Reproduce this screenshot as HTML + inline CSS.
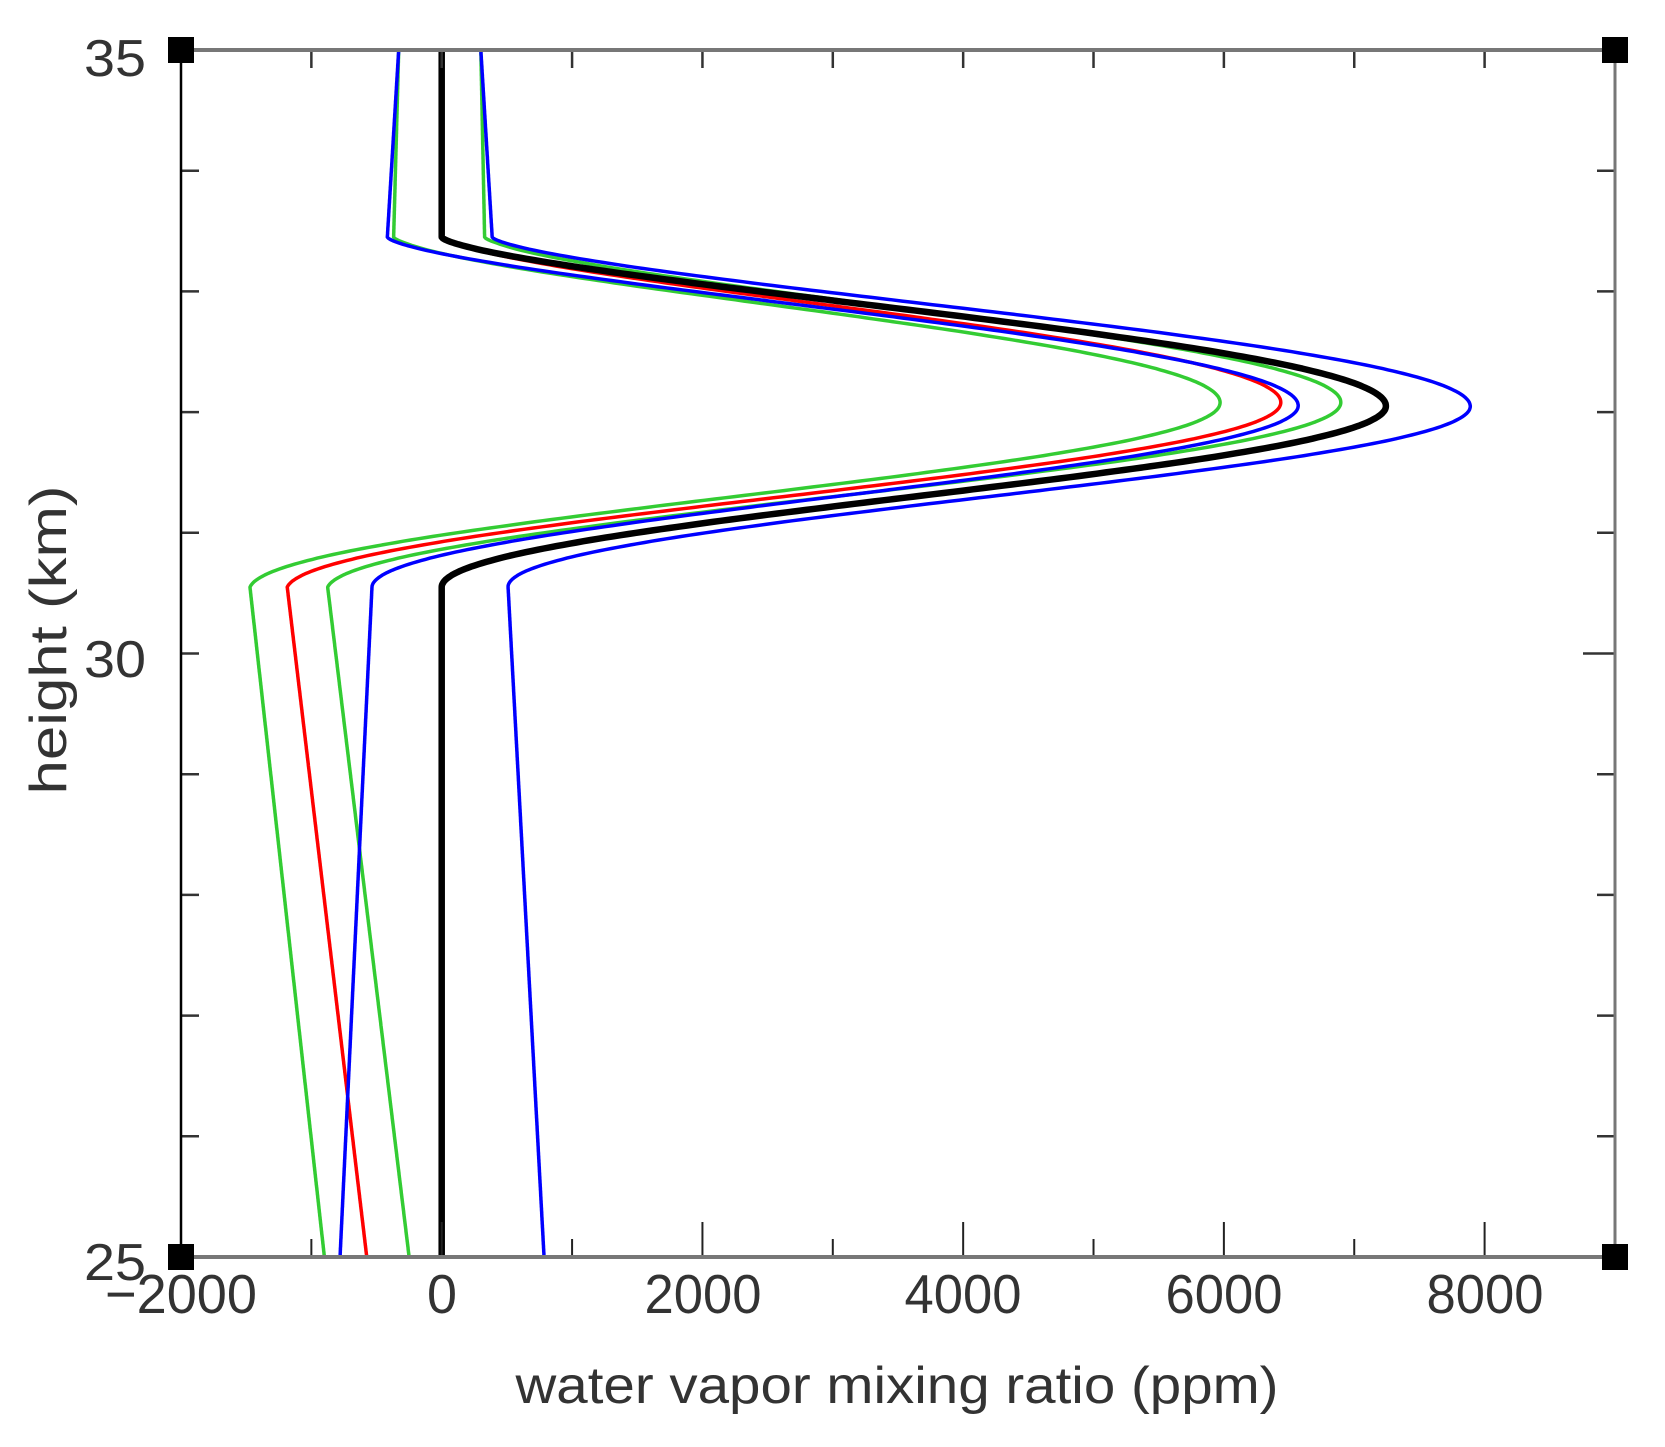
<!DOCTYPE html>
<html><head><meta charset="utf-8"><style>
html,body{margin:0;padding:0;background:#fff;}
svg{display:block;}
text{font-family:"Liberation Sans",sans-serif;fill:#333;}
</style></head><body>
<svg id="s" width="1665" height="1447" viewBox="0 0 1665 1447" xmlns="http://www.w3.org/2000/svg">
<rect width="1665" height="1447" fill="#fff"/>
<g id="curves" fill="none" stroke-linejoin="round"></g>
<g id="axes"></g>
<text x="115" y="76" font-size="52" text-anchor="middle" textLength="62" lengthAdjust="spacingAndGlyphs">35</text>
<text x="115" y="677" font-size="52" text-anchor="middle" textLength="62" lengthAdjust="spacingAndGlyphs">30</text>
<text x="115" y="1280" font-size="52" text-anchor="middle" textLength="62" lengthAdjust="spacingAndGlyphs">25</text>
<text x="181" y="1313" font-size="55" text-anchor="middle" textLength="152" lengthAdjust="spacingAndGlyphs">−2000</text>
<text x="442" y="1313" font-size="55" text-anchor="middle" textLength="30" lengthAdjust="spacingAndGlyphs">0</text>
<text x="703" y="1313" font-size="55" text-anchor="middle" textLength="117" lengthAdjust="spacingAndGlyphs">2000</text>
<text x="963" y="1313" font-size="55" text-anchor="middle" textLength="117" lengthAdjust="spacingAndGlyphs">4000</text>
<text x="1224" y="1313" font-size="55" text-anchor="middle" textLength="117" lengthAdjust="spacingAndGlyphs">6000</text>
<text x="1485" y="1313" font-size="55" text-anchor="middle" textLength="117" lengthAdjust="spacingAndGlyphs">8000</text>
<text x="897" y="1403" font-size="52" text-anchor="middle" textLength="763" lengthAdjust="spacingAndGlyphs">water vapor mixing ratio (ppm)</text>
<text transform="translate(66,640) rotate(-90)" font-size="52" text-anchor="middle" textLength="309" lengthAdjust="spacingAndGlyphs">height (km)</text>
</svg>
<script>
var X=function(v){return 181+(v+2000)*0.13036;};
var Y=function(h){return 50+(35-h)*120.7;};
function curve(Ttop,Tb,v305,v25,P){
  function base(h){
    if(h>=33.4) return Tb+(Ttop-Tb)*(h-33.4)/1.6;
    if(h<=30.55) return v25+(v305-v25)*(h-25)/5.55;
    return v305+(Tb-v305)*(h-30.55)/(33.4-30.55);
  }
  var A=P-base(32.05);
  var pts=[];
  for(var h=25;h<=35.0001;h+=0.01){
    var g=0,d=h-32.05;
    if(d>=0){ if(d<1.4){var c=Math.cos(Math.PI/2*d/1.4); g=Math.pow(c,1.5);} }
    else { d=-d; if(d<1.5){var c=Math.cos(Math.PI/2*d/1.5); g=c*c;} }
    var v=base(h)+A*g;
    pts.push(X(v).toFixed(1)+","+Y(h).toFixed(1));
  }
  return "M"+pts.join("L");
}
var cs=[
 ["#33cc33",3.5,[-330,-370,-1471,-900,5965]],
 ["#ff0000",3.5,[0,0,-1185,-575,6430]],
 ["#33cc33",3.5,[300,330,-875,-250,6890]],
 ["#0000ff",3.5,[-330,-420,-535,-780,6570]],
 ["#000000",6.5,[0,0,0,0,7243]],
 ["#0000ff",3.5,[300,390,509,785,7890]]
];
var g=document.getElementById("curves"),ns="http://www.w3.org/2000/svg";
cs.forEach(function(c){var p=document.createElementNS(ns,"path");p.setAttribute("d",curve.apply(null,c[2]));p.setAttribute("stroke",c[0]);p.setAttribute("stroke-width",c[1]);g.appendChild(p);});
var a=document.getElementById("axes");
function L(x1,y1,x2,y2,col,w){var l=document.createElementNS(ns,"line");l.setAttribute("x1",x1);l.setAttribute("y1",y1);l.setAttribute("x2",x2);l.setAttribute("y2",y2);l.setAttribute("stroke",col);l.setAttribute("stroke-width",w);a.appendChild(l);}
for(var v=-1000;v<=8000;v+=1000){var x=X(v);var maj=(v%2000===0);L(x,1257,x,1257-(maj?35:18),"#222",2);L(x,50,x,68,"#333",2.5);}
for(var h=26;h<=34;h++){var y=Y(h);L(181,y,199,y,"#333",2.5);L(1615,y,(h==30?1583:1597),y,"#333",2.5);}
L(181,50,181,1257,"#000",2.5);
L(1615,50,1615,1257,"#777",3);
L(181,50,1615,50,"#777",4);
L(181,1257,1615,1257,"#777",4);
[[181,50],[1615,50],[181,1257],[1615,1257]].forEach(function(p){var r=document.createElementNS(ns,"rect");r.setAttribute("x",p[0]-13);r.setAttribute("y",p[1]-13);r.setAttribute("width",26);r.setAttribute("height",26);r.setAttribute("fill","#000");a.appendChild(r);});
</script>
</body></html>
